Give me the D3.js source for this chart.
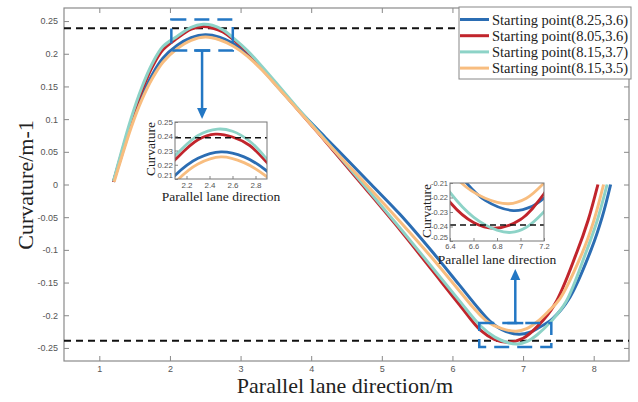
<!DOCTYPE html>
<html>
<head>
<meta charset="utf-8">
<style>
    body { margin: 0; background: #fff; }
    svg { display: block; }
    .tick text { font-family: 'Liberation Sans', Arial, sans-serif; fill: #555; }
    .tick line { stroke: #888; }
    .serif { font-family: 'Liberation Serif', 'Times New Roman', serif; fill: #222; }
</style>
</head>
<body>
<svg width="638" height="402"></svg>

<script src="https://d3js.org/d3.v7.min.js"></script>
<script>
    // curve values: [x, curvature]
    const blue825 = [[1.20,0.004],[1.30,0.039],[1.45,0.091],[1.60,0.134],[1.75,0.168],[1.90,0.193],[2.10,0.2125],[2.30,0.2245],[2.50,0.229],[2.70,0.2255],[2.90,0.2155],[3.10,0.199],[3.30,0.177],[3.50,0.1525],[3.80,0.1165],[4.20,0.072],[4.50,0.039],[4.85,0.0],[5.26,-0.046],[5.70,-0.101],[6.10,-0.154],[6.39,-0.1925],[6.53,-0.209],[6.70,-0.222],[6.94,-0.229],[7.10,-0.226],[7.20,-0.2205],[7.42,-0.205],[7.66,-0.173],[7.97,-0.098],[8.12,-0.050],[8.24,0.0]]
    const red805 = [[1.20,0.004],[1.30,0.042],[1.45,0.097],[1.60,0.143],[1.75,0.180],[1.90,0.206],[2.10,0.2235],[2.30,0.2375],[2.45,0.2415],[2.60,0.2395],[2.75,0.2335],[2.90,0.2215],[3.10,0.2025],[3.30,0.179],[3.50,0.1537],[3.80,0.1157],[4.20,0.0663],[4.72,0.0],[5.26,-0.0697],[5.70,-0.1295],[6.10,-0.184],[6.40,-0.2233],[6.60,-0.2372],[6.78,-0.2412],[7.00,-0.2352],[7.20,-0.2174],[7.45,-0.183],[7.76,-0.104],[7.92,-0.055],[8.06,0.0]]
    const teal815 = [[1.20,0.005],[1.30,0.045],[1.45,0.101],[1.60,0.148],[1.75,0.185],[1.90,0.211],[2.10,0.2265],[2.30,0.2405],[2.47,0.245],[2.60,0.2435],[2.75,0.2365],[2.90,0.224],[3.10,0.2045],[3.30,0.181],[3.50,0.156],[3.80,0.118],[4.20,0.068],[4.74,0.0],[5.26,-0.067],[5.70,-0.125],[6.10,-0.178],[6.40,-0.2165],[6.60,-0.2335],[6.80,-0.2425],[6.92,-0.2441],[7.05,-0.2405],[7.20,-0.2298],[7.40,-0.209],[7.61,-0.179],[7.89,-0.104],[8.05,-0.055],[8.19,0.0]]
    const orange815 = [[1.21,0.004],[1.30,0.036],[1.45,0.087],[1.60,0.129],[1.75,0.162],[1.90,0.187],[2.10,0.2075],[2.30,0.2205],[2.50,0.2255],[2.70,0.2215],[2.90,0.2115],[3.10,0.196],[3.30,0.1755],[3.50,0.152],[3.80,0.1155],[4.20,0.067],[4.78,0.0],[5.26,-0.057],[5.70,-0.111],[6.10,-0.163],[6.30,-0.189],[6.49,-0.2095],[6.70,-0.2205],[6.90,-0.2243],[7.05,-0.2205],[7.20,-0.210],[7.35,-0.195],[7.52,-0.175],[7.84,-0.104],[8.00,-0.056],[8.14,0.0]]

    const seriesNames = ["Starting point(8.25,3.6)", "Starting point(8.05,3.6)", "Starting point(8.15,3.7)", "Starting point(8.15,3.5)"]
    const seriesData = [blue825, red805, teal815, orange815]
    const seriesColors = ["#2b6db3", "#c1252c", "#8dd3c7", "#f8bd7f"]

    const xTicks = [1, 2, 3, 4, 5, 6, 7, 8]
    const yTicks = [-0.25, -0.2, -0.15, -0.1, -0.05, 0, 0.05, 0.1, 0.15, 0.2, 0.25]
    const yTickLabels = ["-0.25", "-0.2", "-0.15", "-0.1", "-0.05", "0", "0.05", "0.1", "0.15", "0.2", "0.25"]
    const limitLines = [0.239, -0.239]

    // zoom windows
    const zoom1X = [2.1, 2.9], zoom1Y = [0.21, 0.25]
    const zoom2X = [6.4, 7.2], zoom2Y = [-0.25, -0.21]
    const zoom1XTicks = [2.2, 2.4, 2.6, 2.8], zoom1YTicks = [0.21, 0.22, 0.23, 0.24, 0.25]
    const zoom2XTicks = [6.4, 6.6, 6.8, 7, 7.2], zoom2YTicks = [-0.25, -0.24, -0.23, -0.22, -0.21]
    const box1X = [2.02, 2.89], box1Y = [0.205, 0.2525]
    const box2X = [6.38, 7.40], box2Y = [-0.2485, -0.212]

    let svg = d3.select("svg")
    let mLeft = 64, mRight = 629, mTop = 8, mBottom = 361

    let x = d3.scaleLinear().domain([0.5, 8.5]).range([mLeft, mRight])
    let y = d3.scaleLinear().domain([-0.27, 0.27]).range([mBottom, mTop])

    svg.append("defs").append("clipPath").attr("id", "plotclip")
        .append("rect").attr("x", mLeft).attr("y", mTop).attr("width", mRight - mLeft).attr("height", mBottom - mTop)

    // axes, MATLAB style with inward ticks
    svg.append("g").attr("transform", `translate(0,${mBottom})`)
        .call(d3.axisBottom(x).tickValues(xTicks).tickFormat(d => String(d)).tickSizeInner(-5).tickSizeOuter(0).tickPadding(5))
        .call(g => g.select(".domain").remove())
        .selectAll("text").style("font-size", "9px")
    svg.append("g").attr("transform", `translate(0,${mTop})`)
        .call(d3.axisTop(x).tickValues(xTicks).tickFormat("").tickSizeInner(-5).tickSizeOuter(0))
        .call(g => g.select(".domain").remove())
    svg.append("g").attr("transform", `translate(${mLeft},0)`)
        .call(d3.axisLeft(y).tickValues(yTicks).tickFormat((d, i) => yTickLabels[i]).tickSizeInner(-5).tickSizeOuter(0).tickPadding(6))
        .call(g => g.select(".domain").remove())
        .selectAll("text").style("font-size", "9px")
    svg.append("g").attr("transform", `translate(${mRight},0)`)
        .call(d3.axisRight(y).tickValues(yTicks).tickFormat("").tickSizeInner(-5).tickSizeOuter(0))
        .call(g => g.select(".domain").remove())

    svg.append("rect")
        .attr("x", mLeft).attr("y", mTop).attr("width", mRight - mLeft).attr("height", mBottom - mTop)
        .attr("fill", "none").attr("stroke", "#8a8a8a").attr("stroke-width", 1.2)

    // dashed limit lines
    svg.selectAll(".limit")
        .data(limitLines)
        .join("line")
        .attr("class", "limit")
        .attr("x1", mLeft).attr("x2", mRight)
        .attr("y1", d => y(d)).attr("y2", d => y(d))
        .attr("stroke", "#111").attr("stroke-width", 1.8).attr("stroke-dasharray", "7,5")

    // main curves
    let line = d3.line().x(d => x(d[0])).y(d => y(d[1])).curve(d3.curveCatmullRom.alpha(0.5))
    svg.append("g").attr("clip-path", "url(#plotclip)")
        .selectAll("path")
        .data(seriesData)
        .join("path")
        .attr("d", line)
        .attr("fill", "none")
        .attr("stroke", (d, i) => seriesColors[i])
        .attr("stroke-width", 3)

    // dashed boxes and arrows
    let accent = "#2377c4"
    function box(bx, by) {
        svg.append("rect")
            .attr("x", x(bx[0])).attr("y", y(by[1]))
            .attr("width", x(bx[1]) - x(bx[0])).attr("height", y(by[0]) - y(by[1]))
            .attr("fill", "none").attr("stroke", accent).attr("stroke-width", 2.5)
            .attr("stroke-dasharray", "15,8")
    }
    box(box1X, box1Y)
    box(box2X, box2Y)

    function arrow(ax, y0, y1) {
        // y0 start, y1 tip
        let dir = y1 > y0 ? 1 : -1
        svg.append("line").attr("x1", ax).attr("x2", ax).attr("y1", y0).attr("y2", y1 - dir * 9)
            .attr("stroke", accent).attr("stroke-width", 2.5)
        svg.append("path")
            .attr("d", `M${ax - 5},${y1 - dir * 11}L${ax + 5},${y1 - dir * 11}L${ax},${y1}Z`)
            .attr("fill", accent)
    }
    let ax1 = (x(box1X[0]) + x(box1X[1])) / 2
    arrow(ax1, y(box1Y[0]), 119)
    let ax2 = (x(box2X[0]) + x(box2X[1])) / 2
    arrow(ax2, y(box2Y[1]), 269)
    // little T caps where arrows meet the boxes
    svg.append("line").attr("x1", ax1 - 8).attr("x2", ax1 + 8).attr("y1", y(box1Y[0])).attr("y2", y(box1Y[0]))
        .attr("stroke", accent).attr("stroke-width", 2.5)
    svg.append("line").attr("x1", ax2 - 8).attr("x2", ax2 + 8).attr("y1", y(box2Y[1])).attr("y2", y(box2Y[1]))
        .attr("stroke", accent).attr("stroke-width", 2.5)

    // zoomed insets
    function inset(id, px, py, dx, dy, xt, yt, labX, labY, titleY, tickFont) {
        let ix = d3.scaleLinear().domain(dx).range(px)
        let iy = d3.scaleLinear().domain(dy).range(py)
        let g = svg.append("g")
        g.append("rect").attr("x", px[0]).attr("y", py[1]).attr("width", px[1] - px[0]).attr("height", py[0] - py[1])
            .attr("fill", "#fff")
        g.append("defs").append("clipPath").attr("id", id)
            .append("rect").attr("x", px[0]).attr("y", py[1]).attr("width", px[1] - px[0]).attr("height", py[0] - py[1])
        let iline = d3.line().x(d => ix(d[0])).y(d => iy(d[1])).curve(d3.curveCatmullRom.alpha(0.5))
        let cg = g.append("g").attr("clip-path", `url(#${id})`)
        cg.selectAll("path")
            .data(seriesData)
            .join("path")
            .attr("d", iline)
            .attr("fill", "none")
            .attr("stroke", (d, i) => seriesColors[i])
            .attr("stroke-width", 2.8)
        cg.selectAll(".lim")
            .data(limitLines)
            .join("line")
            .attr("class", "lim")
            .attr("x1", px[0]).attr("x2", px[1])
            .attr("y1", d => iy(d)).attr("y2", d => iy(d))
            .attr("stroke", "#111").attr("stroke-width", 1.6).attr("stroke-dasharray", "6,4")
        g.append("g").attr("transform", `translate(0,${py[0]})`)
            .call(d3.axisBottom(ix).tickValues(xt).tickFormat(d => String(d)).tickSizeInner(-3).tickSizeOuter(0).tickPadding(3))
            .call(a => a.select(".domain").remove())
            .selectAll("text").style("font-size", tickFont)
        g.append("g").attr("transform", `translate(${px[0]},0)`)
            .call(d3.axisLeft(iy).tickValues(yt).tickFormat(d => String(d)).tickSizeInner(-3).tickSizeOuter(0).tickPadding(2))
            .call(a => a.select(".domain").remove())
            .selectAll("text").style("font-size", tickFont)
            // lowest label sits just above the corner so it clears the first x label
            .attr("dy", (d, i) => i === 0 ? "-0.15em" : "0.32em")
        g.append("rect").attr("x", px[0]).attr("y", py[1]).attr("width", px[1] - px[0]).attr("height", py[0] - py[1])
            .attr("fill", "none").attr("stroke", "#777").attr("stroke-width", 1)
        g.append("text").attr("class", "serif")
            .attr("x", (px[0] + px[1]) / 2).attr("y", titleY)
            .attr("text-anchor", "middle").style("font-size", "13.5px")
            .text("Parallel lane direction")
        g.append("text").attr("class", "serif")
            .attr("transform", `translate(${labX},${labY}) rotate(-90)`)
            .attr("text-anchor", "middle").style("font-size", "13.5px")
            .text("Curvature")
    }
    inset("in1", [175, 267], [179, 122], zoom1X, zoom1Y, zoom1XTicks, zoom1YTicks, 155, 149, 201, "8px")
    inset("in2", [450, 544], [241, 183], zoom2X, zoom2Y, zoom2XTicks, zoom2YTicks, 431, 211, 264, "7.5px")

    // axis titles
    svg.append("text").attr("class", "serif")
        .attr("x", 345).attr("y", 393)
        .attr("text-anchor", "middle").style("font-size", "22px")
        .text("Parallel lane direction/m")
    svg.append("text").attr("class", "serif")
        .attr("transform", "translate(33,185) rotate(-90)")
        .attr("text-anchor", "middle").style("font-size", "22px")
        .text("Curvature/m-1")

    // legend
    let legend = svg.append("g")
    legend.append("rect").attr("x", 459).attr("y", 7).attr("width", 172).attr("height", 72)
        .attr("fill", "#fff").attr("stroke", "#888").attr("stroke-width", 1)
    let rows = legend.selectAll(".row")
        .data(seriesNames)
        .join("g")
        .attr("class", "row")
        .attr("transform", (d, i) => `translate(0,${19.5 + i * 16.2})`)
    rows.append("line").attr("x1", 460).attr("x2", 489).attr("y1", 0).attr("y2", 0)
        .attr("stroke", (d, i) => seriesColors[i]).attr("stroke-width", 3)
    rows.append("text").attr("class", "serif")
        .attr("x", 492).attr("y", 5)
        .style("font-size", "14.5px")
        .text(d => d)
</script>
</body>
</html>
